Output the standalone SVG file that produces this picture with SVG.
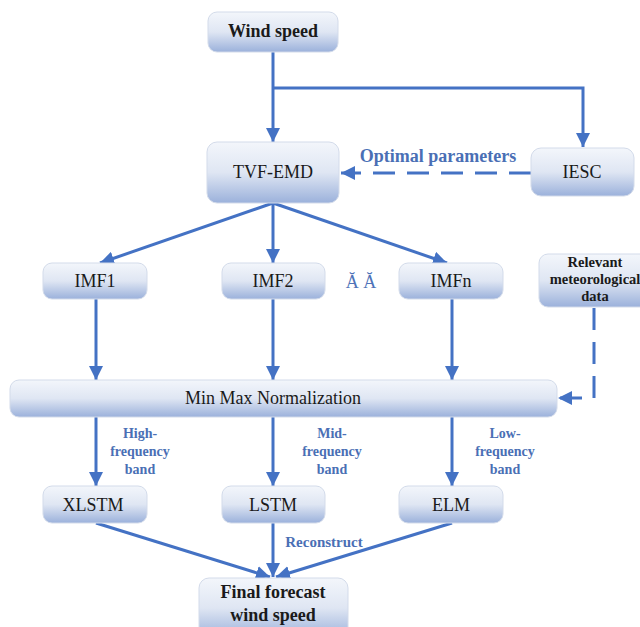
<svg xmlns="http://www.w3.org/2000/svg" width="640" height="627" viewBox="0 0 640 627">
<defs>
<linearGradient id="g" x1="0" y1="0" x2="0" y2="1">
<stop offset="0" stop-color="#f3f6fb"/>
<stop offset="0.5" stop-color="#dfe6f3"/>
<stop offset="1" stop-color="#9bb1db"/>
</linearGradient>
<marker id="ah" markerUnits="userSpaceOnUse" markerWidth="16" markerHeight="14" refX="14" refY="7" orient="auto">
<path d="M0,0 L14,7 L0,14 z" fill="#4472c4"/>
</marker>
<style>
.box{fill:url(#g);stroke:#d3dbea;stroke-width:1}
.t{font-family:"Liberation Serif","Times New Roman",serif;font-size:18px;fill:#1a1a1a;text-anchor:middle}
.b{font-weight:bold}
.bl{font-family:"Liberation Serif","Times New Roman",serif;font-weight:bold;fill:#4a6fb5;text-anchor:middle;font-size:14px}
.ln{fill:none;stroke:#4472c4;stroke-width:3}
.arr{marker-end:url(#ah)}
.d{stroke-dasharray:22 12}
</style>
</defs>
<rect width="640" height="627" fill="#ffffff"/>
<g id="connectors">
<path class="ln arr" d="M273,52 V142"/>
<path class="ln arr" d="M273,88 H583 V147"/>
<path class="ln arr d" d="M531,173 H341"/>
<path class="ln arr" d="M273,203 L100,263"/>
<path class="ln arr" d="M273,203 V263"/>
<path class="ln arr" d="M273,203 L447,263"/>
<path class="ln arr" d="M96,299 V380"/>
<path class="ln arr" d="M273,299 V380"/>
<path class="ln arr" d="M452,299 V380"/>
<path class="ln arr d" d="M594,308 V398 H558"/>
<path class="ln arr" d="M96,417 V486"/>
<path class="ln arr" d="M273,417 V486"/>
<path class="ln arr" d="M452,417 V486"/>
<path class="ln arr" d="M96,523 L270,577"/>
<path class="ln arr" d="M273,523 V577"/>
<path class="ln arr" d="M452,523 L276,577"/>
<text class="bl" x="438" y="162" style="font-size:18px">Optimal parameters</text>
<text class="bl" x="140" y="438">High-</text>
<text class="bl" x="140" y="456">frequency</text>
<text class="bl" x="140" y="474">band</text>
<text class="bl" x="332" y="438">Mid-</text>
<text class="bl" x="332" y="456">frequency</text>
<text class="bl" x="332" y="474">band</text>
<text class="bl" x="505" y="438">Low-</text>
<text class="bl" x="505" y="456">frequency</text>
<text class="bl" x="505" y="474">band</text>
<text class="bl" x="324" y="547" style="font-size:15px">Reconstruct</text>
</g>
<g id="wind"><rect class="box" x="208" y="12" width="130" height="40" rx="9"/><text class="t b" x="273" y="37">Wind speed</text></g>
<g id="tvf"><rect class="box" x="207" y="142" width="132" height="61" rx="10"/><text class="t" x="273" y="178">TVF-EMD</text></g>
<g id="iesc"><rect class="box" x="531" y="148" width="103" height="48" rx="10"/><text class="t" x="582" y="178">IESC</text></g>
<g id="imf1"><rect class="box" x="43" y="263" width="104" height="36" rx="9"/><text class="t" x="95" y="287">IMF1</text></g>
<g id="imf2"><rect class="box" x="222" y="263" width="103" height="36" rx="9"/><text class="t" x="273" y="287">IMF2</text></g>
<g id="dots"><text class="t" x="361" y="288" style="fill:#4f73b8">Ă Ă</text></g>
<g id="imfn"><rect class="box" x="399" y="263" width="104" height="36" rx="9"/><text class="t" x="451" y="287">IMFn</text></g>
<g id="meteo"><rect class="box" x="539" y="254" width="114" height="53" rx="9"/>
<text class="t b" x="595" y="267" style="font-size:14.5px">Relevant</text>
<text class="t b" x="595" y="284" style="font-size:14.5px">meteorological</text>
<text class="t b" x="595" y="301" style="font-size:14.5px">data</text></g>
<g id="norm"><rect class="box" x="10" y="380" width="547" height="37" rx="9"/><text class="t" x="273" y="404">Min Max Normalization</text></g>
<g id="xlstm"><rect class="box" x="43" y="486" width="104" height="37" rx="9"/><text class="t" x="93" y="511">XLSTM</text></g>
<g id="lstm"><rect class="box" x="222" y="486" width="103" height="37" rx="9"/><text class="t" x="273" y="511">LSTM</text></g>
<g id="elm"><rect class="box" x="399" y="486" width="104" height="37" rx="9"/><text class="t" x="451" y="511">ELM</text></g>
<g id="final"><rect class="box" x="199" y="578" width="149" height="60" rx="10"/>
<text class="t b" x="273" y="598">Final forecast</text>
<text class="t b" x="273" y="621">wind speed</text></g>
</svg>
